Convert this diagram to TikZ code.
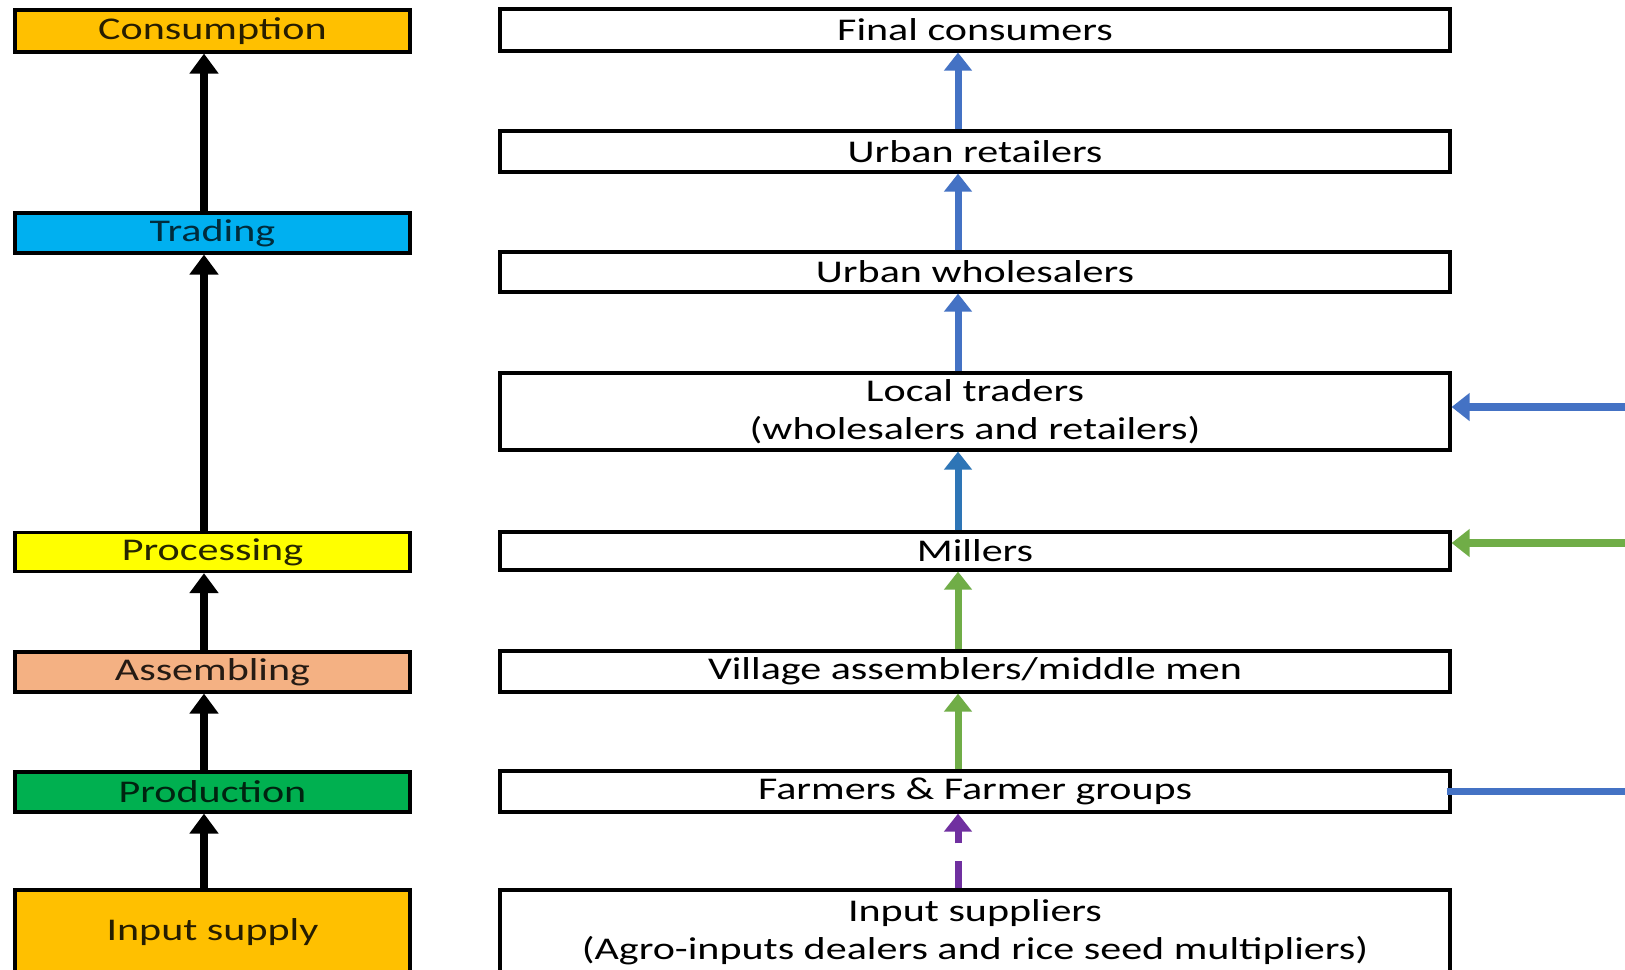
\documentclass[tikz,border=0pt]{standalone}
\usepackage{fontspec}
\setmainfont{Carlito}[FakeStretch=1.33]
\usetikzlibrary{arrows.meta}
\definecolor{cOrange}{HTML}{FFC000}
\definecolor{cBlueL}{HTML}{00B0F0}
\definecolor{cYellow}{HTML}{FFFF00}
\definecolor{cPeach}{HTML}{F4B183}
\definecolor{cGreenD}{HTML}{00B050}
\definecolor{aBlue}{HTML}{4472C4}
\definecolor{aBlueD}{HTML}{2E75B6}
\definecolor{aGreen}{HTML}{70AD47}
\definecolor{aPurple}{HTML}{7030A0}
\begin{document}
\begin{tikzpicture}[x=0.1mm,y=-0.1mm,
  txt/.style={font=\fontsize{9}{10.8}\selectfont},
  rbox/.style={txt, draw=black, line width=0.9pt, fill=white, minimum width=95mm, inner sep=0pt, align=center},
  lbox/.style={txt, draw=black, line width=0.9pt, minimum width=39.5mm, inner sep=0pt, align=center},
  larr/.style={-{Triangle[width=2.8mm,length=2mm]}, line width=2.4pt, black},
  rarr/.style={-{Triangle[width=2.7mm,length=1.8mm]}, line width=2pt},
]
\useasboundingbox[fill=white] (0,0) rectangle (1625,969);

% left column
\node[lbox, fill=cOrange, text=black!85!cOrange, minimum height=4.2mm] (cons) at (212.5,31) {Consumption};
\node[lbox, fill=cBlueL, text=black!75!cBlueL, minimum height=4.0mm] (trad) at (212.5,233) {Trading};
\node[lbox, fill=cYellow, text=black!85!cYellow, minimum height=3.9mm] (proc) at (212.5,552) {Processing};
\node[lbox, fill=cPeach, text=black!85!cPeach, minimum height=4.0mm] (asse) at (212.5,672) {Assembling};
\node[lbox, fill=cGreenD, text=black!80!cGreenD, minimum height=4.0mm] (prod) at (212.5,792) {Production};
\node[lbox, fill=cOrange, text=black!85!cOrange, minimum height=8.4mm] (inps) at (212.5,932) {Input supply};

\coordinate (axL) at (204,0);
\draw[larr] (inps.north -| axL) -- (prod.south -| axL);
\draw[larr] (prod.north -| axL) -- (asse.south -| axL);
\draw[larr] (asse.north -| axL) -- (proc.south -| axL);
\draw[larr] (proc.north -| axL) -- (trad.south -| axL);
\draw[larr] (trad.north -| axL) -- (cons.south -| axL);

% right column
\node[rbox, minimum height=4.2mm] (fin) at (975,30) {Final consumers};
\node[rbox, minimum height=4.1mm] (uret) at (975,151.5) {Urban retailers};
\node[rbox, minimum height=4.0mm] (uwho) at (975,272) {Urban wholesalers};
\node[rbox, minimum height=7.7mm] (loct) at (975,411.5) {Local traders\\(wholesalers and retailers)};
\node[rbox, minimum height=3.8mm] (mill) at (975,551) {Millers};
\node[rbox, minimum height=4.1mm] (vill) at (975,671.5) {Village assemblers/middle men};
\node[rbox, minimum height=4.1mm] (farm) at (975,791.5) {Farmers \& Farmer groups};
\node[rbox, minimum height=8.4mm] (isup) at (975,932) {Input suppliers\\(Agro-inputs dealers and rice seed multipliers)};

\coordinate (axR) at (958,0);
\draw[rarr, aPurple, dash pattern=on 2.7mm off 1.8mm] (isup.north -| axR) -- (farm.south -| axR);
\draw[rarr, aGreen] (farm.north -| axR) -- (vill.south -| axR);
\draw[rarr, aGreen] (vill.north -| axR) -- (mill.south -| axR);
\draw[rarr, aBlueD] (mill.north -| axR) -- (loct.south -| axR);
\draw[rarr, aBlue] (loct.north -| axR) -- (uwho.south -| axR);
\draw[rarr, aBlue] (uwho.north -| axR) -- (uret.south -| axR);
\draw[rarr, aBlue] (uret.north -| axR) -- (fin.south -| axR);

% connectors from the right edge
\coordinate (eA) at (1625,407);
\coordinate (eB) at (1625,543);
\coordinate (eC) at (1625,791);
\draw[rarr, aBlue] (eA) -- (loct.east |- eA);
\draw[rarr, aGreen] (eB) -- (mill.east |- eB);
\draw[line width=2pt, aBlue] ([xshift=-0.5mm]farm.east |- eC) -- (eC);
\end{tikzpicture}
\end{document}
